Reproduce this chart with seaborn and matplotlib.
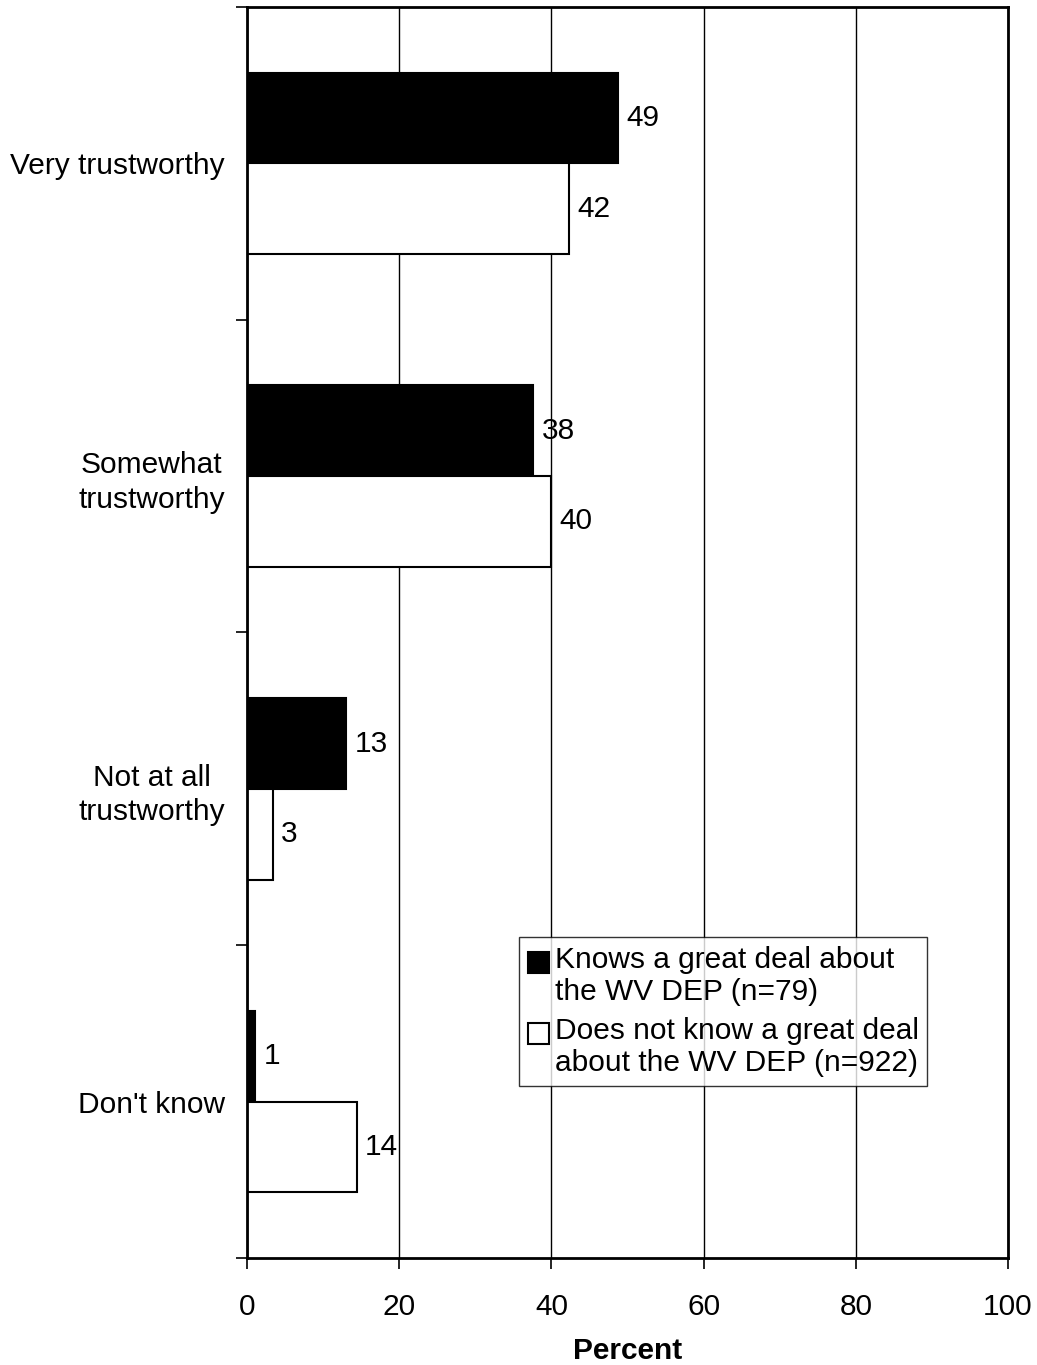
import matplotlib
matplotlib.use("Agg")
import matplotlib.pyplot as plt
import seaborn as sns
import pandas as pd
from matplotlib.ticker import FixedLocator
from matplotlib.patches import Rectangle
from matplotlib.legend_handler import HandlerPatch

categories = ["Very trustworthy", "Somewhat\ntrustworthy", "Not at all\ntrustworthy", "Don't know"]
groups = ["Knows a great deal about\nthe WV DEP (n=79)",
          "Does not know a great deal\nabout the WV DEP (n=922)"]
knows_vals = [48.8, 37.6, 13.0, 1.1]
not_knows_vals = [42.3, 40.0, 3.4, 14.4]
x_ticks = [0, 20, 40, 60, 80, 100]

sns.set_theme(style="white")
plt.rcParams["font.family"] = ["Liberation Sans", "DejaVu Sans"]
for k in ["text.color", "axes.labelcolor", "xtick.color", "ytick.color"]:
    plt.rcParams[k] = "black"

FS = 21.5

df = pd.DataFrame({
    "category": categories * 2,
    "group": [groups[0]] * 4 + [groups[1]] * 4,
    "value": knows_vals + not_knows_vals,
})

fig = plt.figure(figsize=(10.37, 13.65), dpi=100)
ax = fig.add_axes([0.2382, 0.0784, 0.7338, 0.9165])

sns.barplot(data=df, y="category", x="value", hue="group", order=categories,
            hue_order=groups, palette=["black", "white"], edgecolor="black",
            linewidth=1.5, width=0.58, orient="h", ax=ax, legend=True,
            errorbar=None, saturation=1)

ax.set_xlim(0, 100)
ax.set_ylim(3.5, -0.5)
ax.set_xticks(x_ticks)
ax.set_xticklabels([str(t) for t in x_ticks])
ax.xaxis.grid(True, color="black", linewidth=1.0)
ax.set_axisbelow(True)

for cont in ax.containers:
    ax.bar_label(cont, labels=[f"{v:.0f}" for v in cont.datavalues],
                 padding=6, fontsize=FS, color="black")

ax.yaxis.set_minor_locator(FixedLocator([-0.5, 0.5, 1.5, 2.5, 3.5]))
ax.tick_params(axis="y", which="major", length=0, pad=16, labelsize=FS)
ax.tick_params(axis="y", which="minor", length=8, width=1.2, color="black", left=True)
ax.tick_params(axis="x", which="major", length=8, width=1.2, color="black",
               bottom=True, pad=17, labelsize=FS)
for lab in ax.get_yticklabels():
    lab.set_multialignment("center")
    lab.set_linespacing(1.3)

ax.set_ylabel("")
ax.set_xlabel("Percent", fontsize=FS, fontweight="bold", labelpad=12)

for s in ax.spines.values():
    s.set_color("black")
    s.set_linewidth(2.0)


def top_square(legend, orig_handle, xdescent, ydescent, width, height, fontsize):
    return Rectangle((-xdescent, -ydescent + 10), width, height)


handles, labels = ax.get_legend_handles_labels()
leg = ax.legend(handles, labels, loc="lower left", bbox_to_anchor=(0.357, 0.1375),
                fontsize=FS, frameon=True, fancybox=False,
                handlelength=0.7, handleheight=0.7,
                handletextpad=0.2, borderpad=0.3, labelspacing=0.35,
                borderaxespad=0,
                handler_map={h: HandlerPatch(patch_func=top_square) for h in handles})
leg.get_frame().set_edgecolor("black")
leg.get_frame().set_linewidth(1.0)
for t in leg.get_texts():
    t.set_linespacing(1.2)

fig.savefig("out.png", dpi=100)
